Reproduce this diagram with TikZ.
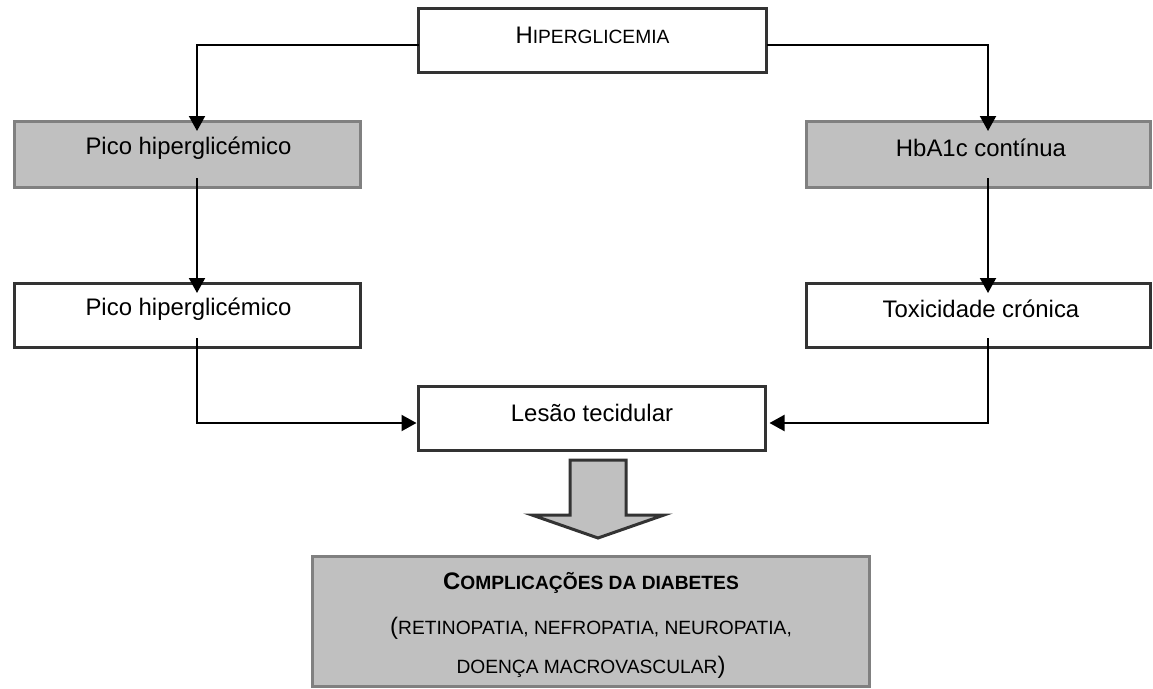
\documentclass[tikz,border=0pt]{standalone}
\usepackage{fontspec}
\setmainfont{Liberation Sans}
\usetikzlibrary{arrows.meta}
\definecolor{boxgray}{HTML}{C0C0C0}
\definecolor{edgegray}{HTML}{808080}
\definecolor{edgedark}{HTML}{333333}
\newcommand{\bigf}{\fontsize{23.9}{28}\selectfont}
\newcommand{\smf}{\fontsize{19.2}{23}\selectfont}
\tikzset{
  whitebox/.style={draw=edgedark, line width=3pt, fill=white, inner sep=0pt, outer sep=0pt},
  graybox/.style={draw=edgegray, line width=3pt, fill=boxgray, inner sep=0pt, outer sep=0pt},
  txt/.style={inner sep=0pt, font=\bigf},
  conn/.style={line width=2pt, -{Triangle[length=15pt,width=16pt]}},
  hollow/.style={draw=edgedark, line width=3pt, fill=boxgray, line join=miter}
}
\begin{document}
\begin{tikzpicture}[x=1pt,y=-1pt]
\useasboundingbox (0,0) rectangle (1153,688);
% boxes
\node[whitebox, minimum width=348pt, minimum height=64pt] (top) at (592.5,40) {};
\node[txt] (toptxt) at (592.5,35) {H{\smf IPERGLICEMIA}};
\node[graybox, minimum width=346pt, minimum height=66pt] (gl) at (187.5,154) {};
\node[txt] (gltxt) at (188.5,148) {Pico hiperglicémico};
\node[graybox, minimum width=344pt, minimum height=66pt] (gr) at (978.5,154) {};
\node[txt] (grtxt) at (981,148) {HbA1c contínua};
\node[whitebox, minimum width=346pt, minimum height=64pt] (wl) at (187.5,315) {};
\node[txt] (wltxt) at (188.5,309) {Pico hiperglicémico};
\node[whitebox, minimum width=344pt, minimum height=64pt] (wr) at (978.5,315) {};
\node[txt] (wrtxt) at (981,309) {Toxicidade crónica};
\node[whitebox, minimum width=347pt, minimum height=64pt] (les) at (592,418.5) {};
\node[txt] (lestxt) at (592,413) {Lesão tecidular};
\node[graybox, minimum width=557pt, minimum height=130pt] (comp) at (591,621) {};
\node[txt, font=\bfseries\bigf] (c1) at (591,583) {C{\smf OMPLICAÇÕES DA DIABETES}};
\node[txt] (c2) at (591,628) {({\smf RETINOPATIA, NEFROPATIA, NEUROPATIA,}};
\node[txt] (c3) at (591,667) {{\smf DOENÇA MACROVASCULAR})};
% connectors
\coordinate (l1) at (197,45);
\coordinate (r1) at (988,45);
\draw[conn] (top.west |- l1) -| ([yshift=-10pt]gl.north -| l1);
\draw[conn] (top.east |- r1) -| ([yshift=-10pt]gr.north -| r1);
\draw[conn] ([yshift=9pt]gl.south -| l1) -- ([yshift=-10pt]wl.north -| l1);
\draw[conn] ([yshift=9pt]gr.south -| r1) -- ([yshift=-10pt]wr.north -| r1);
\coordinate (l2) at (197,423);
\coordinate (r2) at (988,423);
\draw[conn] ([yshift=9pt]wl.south -| l1) |- ([xshift=-2pt]les.west |- l2);
\draw[conn] ([yshift=9pt]wr.south -| r1) |- ([xshift=4pt]les.east |- r2);
% big hollow arrow
\draw[hollow] (570,460) -- (626,460) -- (626,515) -- (664,515) -- (598,538) -- (532,515) -- (570,515) -- cycle;
\end{tikzpicture}
\end{document}
